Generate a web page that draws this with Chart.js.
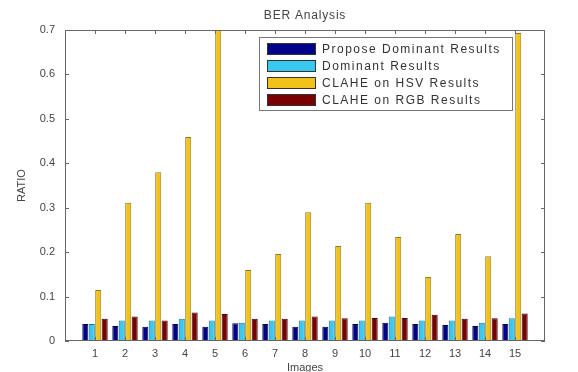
<!DOCTYPE html>
<html>
<head>
<meta charset="utf-8">
<script src="https://cdn.jsdelivr.net/npm/chart.js@4.4.1/dist/chart.umd.min.js"></script>
<style>
    html, body { margin: 0; padding: 0; background: #fff; }
    #berChart { display: block; }
</style>
</head>
<body>
<canvas id="berChart" width="578" height="372"></canvas>
<script>
const images = [1, 2, 3, 4, 5, 6, 7, 8, 9, 10, 11, 12, 13, 14, 15];
const proposeDominant = [0.038, 0.034, 0.032, 0.038, 0.032, 0.040, 0.038, 0.032, 0.032, 0.038, 0.041, 0.038, 0.036, 0.034, 0.038];
const dominant = [0.038, 0.046, 0.046, 0.050, 0.046, 0.041, 0.046, 0.046, 0.046, 0.046, 0.055, 0.046, 0.046, 0.041, 0.051];
const claheHsv = [0.115, 0.311, 0.380, 0.459, 0.750, 0.160, 0.196, 0.290, 0.214, 0.311, 0.234, 0.144, 0.241, 0.191, 0.693];
const claheRgb = [0.050, 0.055, 0.046, 0.064, 0.061, 0.050, 0.050, 0.055, 0.051, 0.052, 0.052, 0.059, 0.050, 0.051, 0.062];
const yTicks = [0, 0.1, 0.2, 0.3, 0.4, 0.5, 0.6, 0.7];

const toPoints = values => values.map((v, i) => ({ x: images[i], y: v }));
const fontFamily = '"Liberation Sans", Arial, sans-serif';
const axisColor = '#666';
const textColor = '#444';

// matlab style box with inner ticks, title over the axes and the legend inside the plot
const axesBox = {
    id: 'axesBox',
    afterDraw(chart) {
        const { ctx, chartArea: a, scales } = chart;
        ctx.save();
        ctx.strokeStyle = axisColor;
        ctx.lineWidth = 1;
        ctx.strokeRect(a.left + 0.5, a.top + 0.5, a.right - a.left - 1, a.bottom - a.top - 1);
        ctx.beginPath();
        images.forEach(v => {
            const x = Math.round(scales.x.getPixelForValue(v)) + 0.5;
            ctx.moveTo(x, a.bottom); ctx.lineTo(x, a.bottom - 4);
            ctx.moveTo(x, a.top); ctx.lineTo(x, a.top + 4);
        });
        yTicks.forEach(v => {
            const y = Math.round(scales.y.getPixelForValue(v)) + 0.5;
            ctx.moveTo(a.left, y); ctx.lineTo(a.left + 4, y);
            ctx.moveTo(a.right, y); ctx.lineTo(a.right - 4, y);
        });
        ctx.stroke();

        // title
        ctx.font = '12px ' + fontFamily;
        ctx.letterSpacing = '0.8px';
        ctx.fillStyle = textColor;
        ctx.textAlign = 'center';
        ctx.textBaseline = 'middle';
        ctx.fillText('BER Analysis', (a.left + a.right) / 2, 16);

        // legend
        const lx = 259, ly = 37, lw = 253, lh = 73;
        ctx.fillStyle = '#fff';
        ctx.fillRect(lx, ly, lw, lh);
        ctx.strokeStyle = '#777';
        ctx.strokeRect(lx + 0.5, ly + 0.5, lw, lh);
        ctx.font = '12px ' + fontFamily;
        ctx.letterSpacing = '1.5px';
        ctx.textAlign = 'left';
        chart.data.datasets.forEach((ds, i) => {
            const cy = ly + 12 + i * 17;
            ctx.fillStyle = ds.backgroundColor;
            ctx.fillRect(lx + 8, cy - 6, 49, 12);
            ctx.strokeStyle = '#333';
            ctx.strokeRect(lx + 8.5, cy - 5.5, 48, 11);
            ctx.fillStyle = '#333';
            ctx.fillText(ds.label, lx + 63, cy + 1);
        });
        ctx.restore();
    }
};

new Chart(document.getElementById('berChart'), {
    type: 'bar',
    data: {
        datasets: [
            {
                label: 'Propose Dominant Results',
                data: toPoints(proposeDominant),
                backgroundColor: '#000088',
                borderColor: '#000040',
                borderWidth: 1
            },
            {
                label: 'Dominant Results',
                data: toPoints(dominant),
                backgroundColor: '#38c8f0',
                borderColor: '#207890',
                borderWidth: 1
            },
            {
                label: 'CLAHE on HSV Results',
                data: toPoints(claheHsv),
                backgroundColor: '#f2c21a',
                borderColor: '#8a7a30',
                borderWidth: 1
            },
            {
                label: 'CLAHE on RGB Results',
                data: toPoints(claheRgb),
                backgroundColor: '#7a0000',
                borderColor: '#3a0000',
                borderWidth: 1
            }
        ]
    },
    options: {
        responsive: false,
        animation: false,
        categoryPercentage: 0.86,
        barPercentage: 0.94,
        layout: {
            padding: { left: 0, right: 33, top: 30, bottom: 0 }
        },
        plugins: {
            legend: { display: false },
            tooltip: { enabled: false },
            title: { display: false }
        },
        scales: {
            x: {
                type: 'linear',
                min: 0,
                max: 16,
                offset: false,
                grid: { display: false, drawTicks: false },
                border: { display: false },
                afterFit: scale => { scale.height = 31; },
                afterBuildTicks: scale => {
                    scale.ticks = images.map(v => ({ value: v }));
                },
                ticks: {
                    padding: 6,
                    color: textColor,
                    font: { family: fontFamily, size: 11 },
                    callback: v => v
                },
                title: {
                    display: true,
                    text: 'Images',
                    color: textColor,
                    font: { family: fontFamily, size: 11 },
                    padding: { top: 0, bottom: -3 }
                }
            },
            y: {
                min: 0,
                max: 0.7,
                grid: { display: false, drawTicks: false },
                border: { display: false },
                afterFit: scale => { scale.width = 65; },
                afterBuildTicks: scale => {
                    scale.ticks = yTicks.map(v => ({ value: v }));
                },
                ticks: {
                    padding: 10,
                    color: textColor,
                    font: { family: fontFamily, size: 11 },
                    callback: v => (v === 0 ? '0' : v.toFixed(1))
                },
                title: {
                    display: true,
                    text: 'RATIO',
                    color: textColor,
                    font: { family: fontFamily, size: 11 },
                    padding: { top: 15, bottom: 0 }
                }
            }
        }
    },
    plugins: [axesBox]
});
</script>
</body>
</html>
